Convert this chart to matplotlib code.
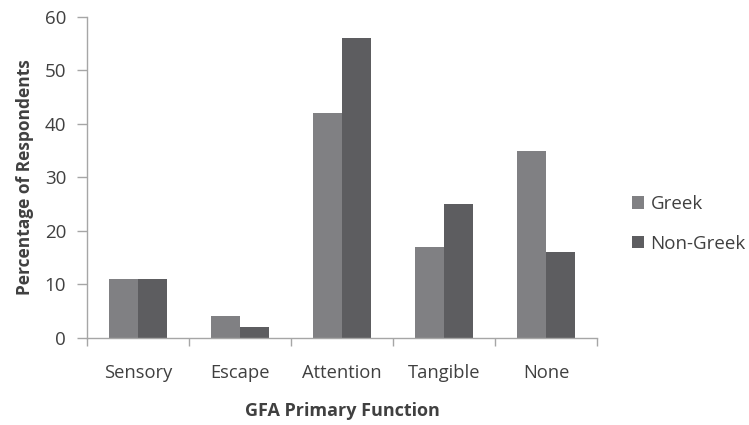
import numpy as np
import matplotlib.pyplot as plt

# Доля респондентов по основной функции (GFA)
функции = ['Sensory', 'Escape', 'Attention', 'Tangible', 'None']
greek = [11, 4, 42, 17, 35]
non_greek = [11, 2, 56, 25, 16]

plt.rcParams['font.family'] = ['Open Sans', 'DejaVu Sans']
текст = '#404040'
ось = '#a6a6a6'

fig = plt.figure(figsize=(7.49, 4.25), dpi=100)
ax = fig.add_axes([0.1162, 0.2054, 0.6808, 0.7546])

x = np.arange(len(функции))
w = 0.28
ax.bar(x - w / 2, greek, w, color='#808083', label='Greek')
ax.bar(x + w / 2, non_greek, w, color='#5d5d60', label='Non-Greek')

ax.set_xlim(-0.5, len(функции) - 0.5)
ax.set_ylim(0, 60)
ax.set_yticks(range(0, 61, 10))

# деления на границах категорий, подписи по центрам
ax.set_xticks(np.arange(-0.5, len(функции)), minor=False)
ax.set_xticklabels([])
ax.set_xticks(x, minor=True)
ax.set_xticklabels(функции, minor=True)
ax.tick_params(axis='x', which='major', length=6, color=ось, width=1)
ax.tick_params(axis='x', which='minor', length=0, pad=19, labelsize=13.2, labelcolor=текст)
ax.tick_params(axis='y', length=7, color=ось, width=1, pad=8, labelsize=13.5, labelcolor=текст)

for s in ['top', 'right']:
    ax.spines[s].set_visible(False)
for s in ['left', 'bottom']:
    ax.spines[s].set_color(ось)
    ax.spines[s].set_linewidth(1)

ax.set_ylabel('Percentage of Respondents', fontsize=12.5, fontweight='bold', color=текст, labelpad=8)
ax.set_xlabel('GFA Primary Function', fontsize=13, fontweight='bold', color=текст, labelpad=14)

leg = ax.legend(loc='center left', bbox_to_anchor=(1.035, 0.355), frameon=False,
                fontsize=13.5, handlelength=0.65, handleheight=0.65, handletextpad=0.35,
                labelspacing=1.15)
for t in leg.get_texts():
    t.set_color(текст)

fig.savefig('out.png', dpi=100)
